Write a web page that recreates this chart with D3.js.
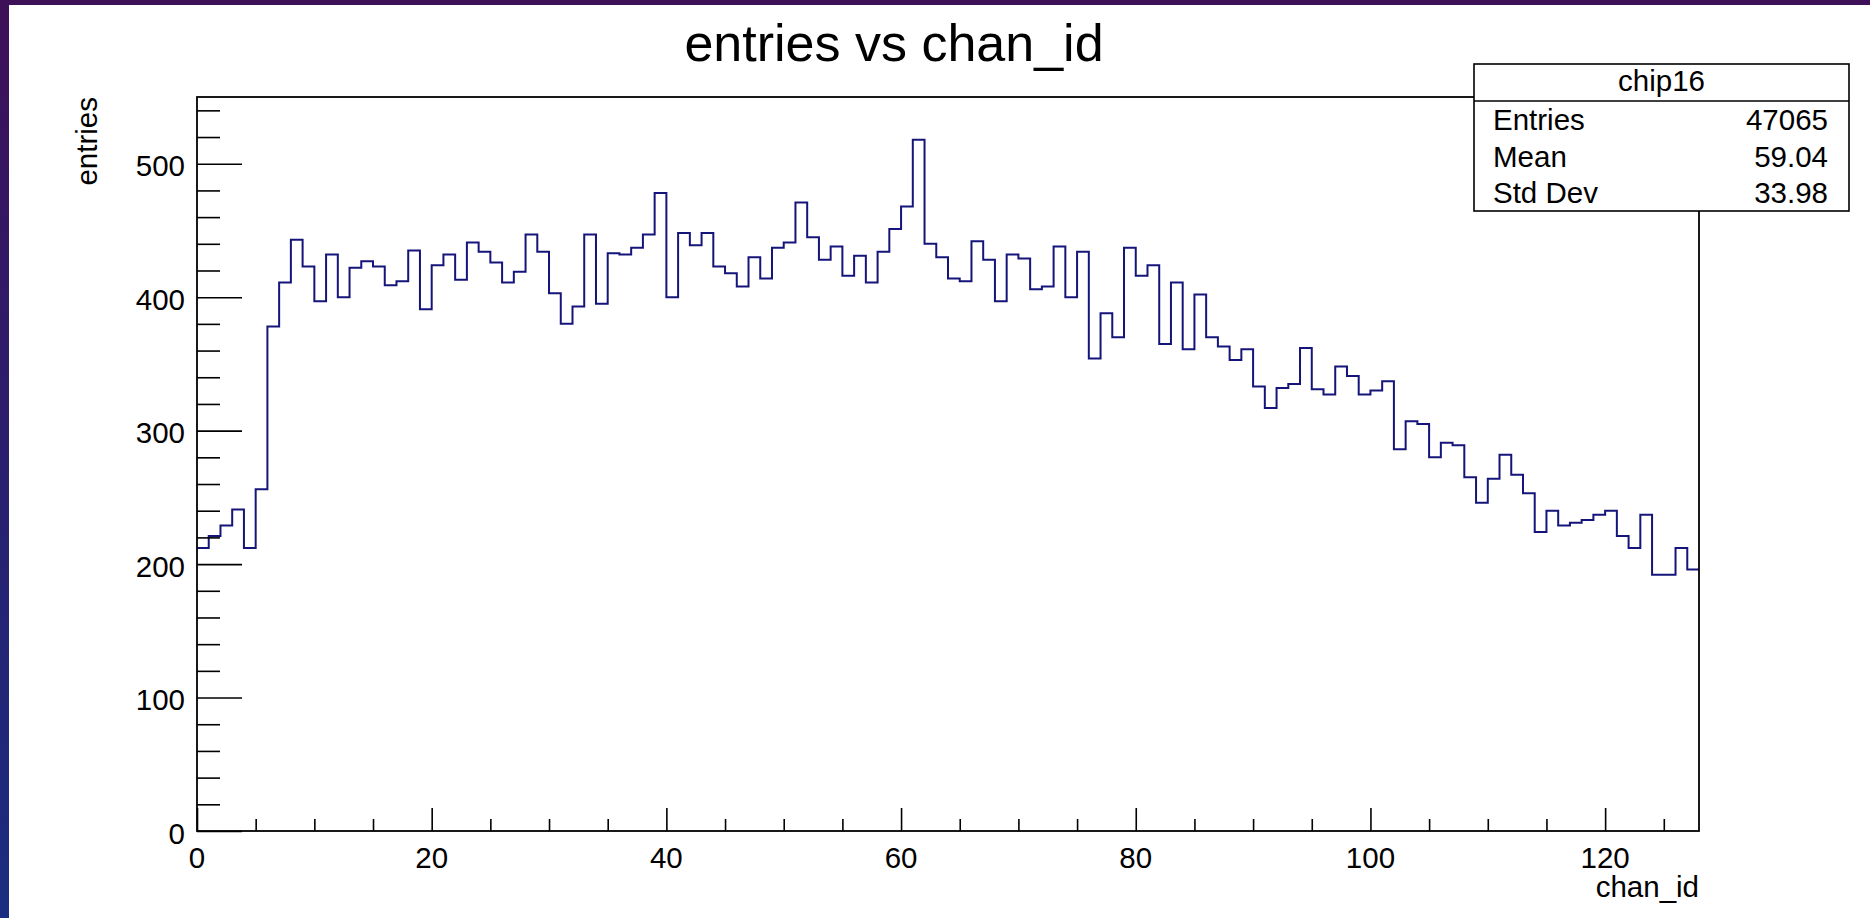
<!DOCTYPE html>
<html>
<head>
<meta charset="utf-8">
<script src="https://cdn.jsdelivr.net/npm/d3@7"></script>
<style>
  html, body { margin: 0; padding: 0; width: 1870px; height: 918px; overflow: hidden; }
  body { background: linear-gradient(180deg, #3e1058 0%, #2a1f6e 50%, #1a2d80 100%); }
  svg { display: block; }
  text { font-family: "Liberation Sans", Arial, Helvetica, sans-serif; fill: #000; }
</style>
</head>
<body>
<svg id="chart" width="1870" height="918"></svg>
<script>
// ---- data ----
const chartTitle = "entries vs chan_id";
const xAxisTitle = "chan_id";
const yAxisTitle = "entries";
const binEdgesRange = [0, 128];
const binValues = [
  212, 221, 229, 241, 212, 256, 378, 411, 443, 423,
  397, 432, 400, 422, 427, 423, 409, 412, 435, 391,
  424, 432, 413, 441, 434, 426, 411, 419, 447, 434,
  403, 380, 393, 447, 395, 433, 432, 437, 447, 478,
  400, 448, 439, 448, 423, 418, 408, 430, 414, 437,
  441, 471, 445, 428, 438, 416, 431, 411, 434, 451,
  468, 518, 440, 430, 414, 412, 442, 428, 397, 432,
  429, 406, 408, 438, 400, 434, 354, 388, 370, 437,
  416, 424, 365, 411, 361, 402, 370, 363, 353, 361,
  333, 317, 332, 335, 362, 331, 327, 348, 341, 327,
  330, 337, 286, 307, 305, 280, 291, 289, 265, 246,
  264, 282, 267, 253, 224, 240, 229, 231, 233, 237,
  240, 221, 212, 237, 192, 192, 212, 196
];
const yDomain = [0, 550];
const xMajorTicks = [0, 20, 40, 60, 80, 100, 120];
const xMinorStep = 5;
const yMajorTicks = [0, 100, 200, 300, 400, 500];
const yMinorStep = 20;
const statsTitle = "chip16";
const statLabels = ["Entries", "Mean", "Std Dev"];
const statValues = ["47065", "59.04", "33.98"];

// ---- layout ----
const frame = { left: 197, right: 1699, top: 97, bottom: 831 };
const svg = d3.select("#chart");

// white canvas
svg.append("rect").attr("x", 9).attr("y", 5).attr("width", 1861).attr("height", 913).attr("fill", "#ffffff");

const x = d3.scaleLinear().domain(binEdgesRange).range([frame.left, frame.right]);
const y = d3.scaleLinear().domain(yDomain).range([frame.bottom, frame.top]);

// histogram (step line)
const pts = binValues.map((v, i) => [i, v]);
pts.push([binValues.length, binValues[binValues.length - 1]]);
const line = d3.line().x(d => x(d[0])).y(d => y(d[1])).curve(d3.curveStepAfter);
svg.append("path").datum(pts).attr("d", line)
  .attr("fill", "none").attr("stroke", "#14147a").attr("stroke-width", 2);

// frame
svg.append("rect").attr("x", frame.left).attr("y", frame.top)
  .attr("width", frame.right - frame.left).attr("height", frame.bottom - frame.top)
  .attr("fill", "none").attr("stroke", "#000").attr("stroke-width", 1.8);

// x axis ticks
const xMinor = d3.range(binEdgesRange[0], binEdgesRange[1] + 0.001, xMinorStep).filter(v => !xMajorTicks.includes(v));
const xAxisMajor = d3.axisTop(x).tickValues(xMajorTicks).tickSize(23).tickFormat("");
const xAxisMinor = d3.axisTop(x).tickValues(xMinor).tickSize(12).tickFormat("");
[xAxisMajor, xAxisMinor].forEach(ax => {
  const g = svg.append("g").attr("transform", `translate(0,${frame.bottom})`).call(ax);
  g.select(".domain").remove();
  g.selectAll("line").attr("stroke", "#000").attr("stroke-width", 1.6);
});
svg.append("g").selectAll("text").data(xMajorTicks).join("text")
  .attr("x", d => x(d)).attr("y", frame.bottom + 37)
  .attr("text-anchor", "middle").attr("font-size", 29.5).text(d => d);

// y axis ticks
const yMinor = d3.range(yDomain[0], yDomain[1] + 0.001, yMinorStep).filter(v => !yMajorTicks.includes(v));
const yAxisMajor = d3.axisRight(y).tickValues(yMajorTicks).tickSize(45).tickFormat("");
const yAxisMinor = d3.axisRight(y).tickValues(yMinor).tickSize(23).tickFormat("");
[yAxisMajor, yAxisMinor].forEach(ax => {
  const g = svg.append("g").attr("transform", `translate(${frame.left},0)`).call(ax);
  g.select(".domain").remove();
  g.selectAll("line").attr("stroke", "#000").attr("stroke-width", 1.6);
});
svg.append("g").selectAll("text").data(yMajorTicks).join("text")
  .attr("x", frame.left - 12).attr("y", d => y(d) + 12.5)
  .attr("text-anchor", "end").attr("font-size", 29.5).text(d => d);

// axis titles
svg.append("text").attr("x", frame.right).attr("y", 897)
  .attr("text-anchor", "end").attr("font-size", 29.5).text(xAxisTitle);
svg.append("text").attr("transform", `translate(96.5,${frame.top}) rotate(-90)`)
  .attr("text-anchor", "end").attr("font-size", 29.5).text(yAxisTitle);

// title
svg.append("text").attr("x", 894).attr("y", 61)
  .attr("text-anchor", "middle").attr("font-size", 52).text(chartTitle);

// stats box
const sb = { left: 1474, right: 1849, top: 64, sep: 101, bottom: 211 };
svg.append("rect").attr("x", sb.left).attr("y", sb.top)
  .attr("width", sb.right - sb.left).attr("height", sb.bottom - sb.top)
  .attr("fill", "#fff").attr("stroke", "#000").attr("stroke-width", 1.6);
svg.append("line").attr("x1", sb.left).attr("x2", sb.right).attr("y1", sb.sep).attr("y2", sb.sep)
  .attr("stroke", "#000").attr("stroke-width", 1.6);
svg.append("text").attr("x", (sb.left + sb.right) / 2).attr("y", 91)
  .attr("text-anchor", "middle").attr("font-size", 29.5).text(statsTitle);
const rowY = [130, 166.5, 203];
svg.append("g").selectAll("text").data(statLabels).join("text")
  .attr("x", 1493).attr("y", (d, i) => rowY[i]).attr("font-size", 29.5).text(d => d);
svg.append("g").selectAll("text").data(statValues).join("text")
  .attr("x", 1828).attr("y", (d, i) => rowY[i]).attr("text-anchor", "end").attr("font-size", 29.5).text(d => d);
</script>
</body>
</html>
